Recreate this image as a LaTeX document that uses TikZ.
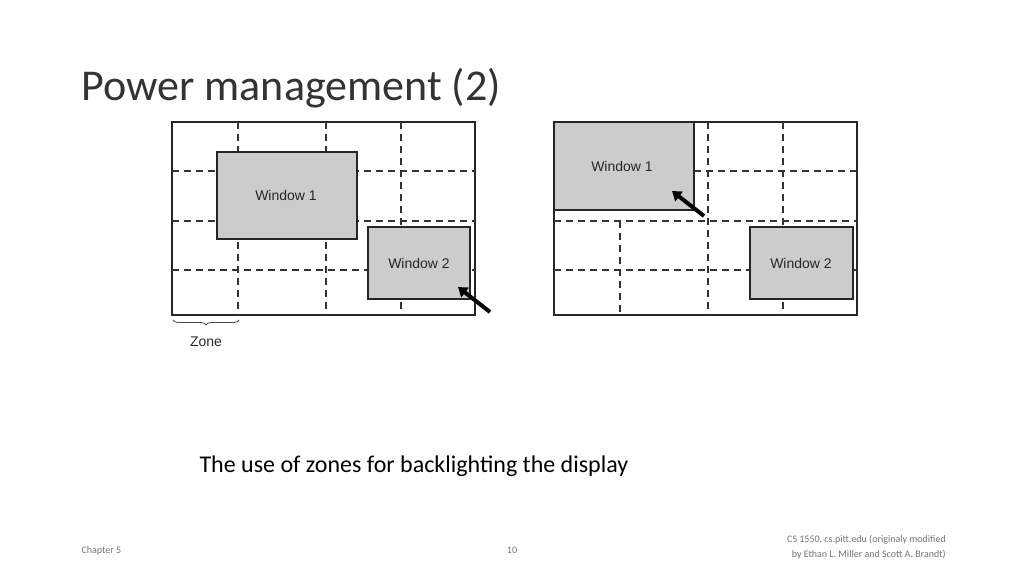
\documentclass[tikz,border=0pt]{standalone}
\usepackage{fontspec}
\setmainfont{Carlito}
\newfontfamily\arial{Liberation Sans}
\usetikzlibrary{decorations.pathreplacing,arrows.meta}
\begin{document}
\begin{tikzpicture}[x=1pt,y=-1pt,
  grid/.style={draw=black!85,line width=1.3pt},
  dsh/.style={draw=black!80,line width=1.3pt,dash pattern=on 7pt off 5pt},
  win/.style={draw=black!85,fill=black!20,line width=1.3pt},
  wlab/.style={font=\arial\fontsize{14}{16}\selectfont,text=black!85},
  arr/.style={line width=4pt,-{Triangle[length=9pt,width=12pt]},black}]
\useasboundingbox (0,0) rectangle (1024,576);
\node[anchor=base west,font=\fontsize{44}{50}\selectfont,text=black!80] (title) at (78,100) {Power management (2)};
% left
\draw[grid] (172,122) rectangle (475,315);
\foreach \x in {238,326,401} \draw[dsh] (\x,122) -- (\x,315);
\foreach \y in {171,221,270} \draw[dsh] (172,\y) -- (475,\y);
\draw[win] (217,152) rectangle (357,239);
\node[wlab] (lw1) at (286,195) {Window 1};
\draw[win] (368,227) rectangle (470,299);
\node[wlab] (lw2) at (419,263) {Window 2};
\coordinate (la1) at (490,312); \coordinate (la2) at (458,287);
\draw[arr] (la1) -- (la2);
\draw[decorate,decoration={brace,mirror,amplitude=5pt},line width=0.8pt,black!70] (173,320) -- (239,320);
\node[font=\arial\fontsize{14}{16}\selectfont,text=black!85] (zone) at (206,342) {Zone};
% right
\draw[grid] (554,122) rectangle (857,315);
\foreach \x in {708,783} \draw[dsh] (\x,122) -- (\x,315);
\draw[dsh] (620,221) -- (620,315);
\draw[dsh] (694,171) -- (857,171);
\foreach \y in {221,270} \draw[dsh] (554,\y) -- (857,\y);
\draw[win] (554,122) rectangle (694,210);
\node[wlab] (rw1) at (622,166) {Window 1};
\draw[win] (750,227) rectangle (853,299);
\node[wlab] (rw2) at (801,263) {Window 2};
\coordinate (ra1) at (704,216); \coordinate (ra2) at (672,191);
\draw[arr] (ra1) -- (ra2);
% caption & footer
\node[anchor=base west,font=\fontsize{24}{28}\selectfont,text=black] (cap) at (196,472) {The use of zones for backlighting the display};
\node[anchor=base west,font=\fontsize{10}{12}\selectfont,text=black!55] (ch) at (78,553) {Chapter 5};
\node[anchor=base,font=\fontsize{10}{12}\selectfont,text=black!55] (pg) at (512,553) {10};
\node[anchor=north east,align=right,font=\fontsize{10}{15}\selectfont,text=black!55,inner sep=0pt] (cr) at (946,535) {CS 1550, cs.pitt.edu (originaly modified\\by Ethan L. Miller and Scott A. Brandt)};
\end{tikzpicture}
\end{document}
